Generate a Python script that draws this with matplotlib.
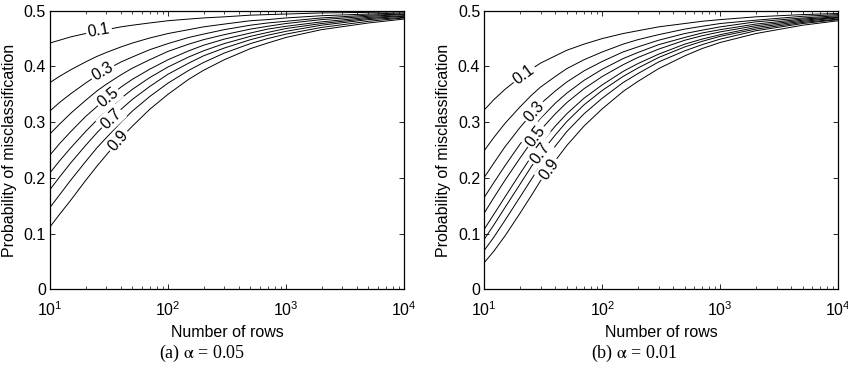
import numpy as np
import matplotlib
matplotlib.use('Agg')
import matplotlib.pyplot as plt

plt.rcParams['font.family'] = ['Liberation Sans', 'DejaVu Sans']
plt.rcParams['font.size'] = 11.5
plt.rcParams['mathtext.fontset'] = 'stix'

rows = [10, 12, 15, 20, 25, 30, 40, 50, 70, 100, 150, 200, 300, 500, 700,
        1000, 2000, 5000, 10000]
levels = [0.1, 0.2, 0.3, 0.4, 0.5, 0.6, 0.7, 0.8, 0.9]
shown = ['0.1', '0.3', '0.5', '0.7', '0.9']

# (a) alpha = 0.05, one list per level 0.1 .. 0.9
miss_a = [
    [.442, .447, .453, .459, .463, .466, .471, .474, .478, .482, .485, .487, .489, .492, .493, .494, .496, .497, .498],
    [.371, .382, .394, .408, .418, .425, .435, .442, .451, .459, .466, .471, .476, .482, .484, .487, .491, .494, .496],
    [.320, .335, .351, .370, .384, .394, .408, .417, .430, .441, .452, .458, .466, .474, .478, .481, .487, .492, .494],
    [.279, .296, .316, .339, .356, .368, .385, .397, .412, .427, .440, .448, .457, .467, .472, .477, .484, .490, .493],
    [.241, .261, .283, .310, .328, .342, .363, .377, .395, .412, .428, .438, .449, .460, .467, .472, .480, .488, .491],
    [.209, .230, .254, .283, .304, .320, .343, .359, .380, .399, .417, .428, .441, .454, .461, .468, .477, .486, .490],
    [.179, .201, .227, .258, .281, .298, .323, .341, .364, .386, .406, .419, .433, .448, .456, .463, .474, .484, .488],
    [.147, .169, .196, .229, .254, .272, .300, .320, .346, .370, .393, .407, .424, .441, .450, .458, .470, .481, .487],
    [.112, .134, .160, .195, .221, .241, .272, .293, .323, .350, .377, .393, .412, .432, .442, .452, .466, .478, .485],
]

# (b) alpha = 0.01
miss_b = [
    [.322, .340, .359, .380, .395, .406, .419, .429, .440, .450, .459, .464, .471, .477, .481, .484, .489, .493, .495],
    [.249, .272, .298, .327, .348, .363, .382, .396, .412, .426, .440, .448, .457, .467, .472, .477, .483, .490, .493],
    [.201, .226, .256, .290, .314, .333, .356, .372, .392, .409, .426, .435, .447, .459, .465, .471, .480, .487, .491],
    [.165, .191, .222, .260, .287, .307, .334, .352, .375, .395, .414, .425, .439, .452, .460, .466, .476, .485, .489],
    [.137, .164, .196, .235, .264, .286, .315, .335, .360, .382, .403, .416, .431, .447, .455, .462, .473, .483, .488],
    [.108, .134, .166, .207, .238, .261, .293, .315, .343, .367, .391, .405, .422, .440, .449, .457, .470, .481, .487],
    [.090, .115, .147, .188, .220, .244, .277, .301, .331, .357, .382, .397, .416, .435, .445, .454, .467, .479, .485],
    [.070, .093, .124, .165, .197, .223, .257, .283, .315, .343, .371, .387, .408, .428, .439, .449, .464, .477, .484],
    [.048, .068, .096, .136, .168, .195, .231, .258, .293, .324, .355, .373, .396, .419, .432, .443, .459, .474, .482],
]

# where the inline labels sit (in rows) for levels 0.1, 0.3, ..., 0.9
label_rows_a = [26, 28, 31, 33, 38]
label_rows_b = [21.7, 26.4, 27.2, 30, 35.3]


def put_label(ax, xs, ys, x0, text):
    lx = np.log10(xs)
    l0 = np.log10(x0)
    y0 = np.interp(l0, lx, ys)
    pa = ax.transData.transform((10 ** (l0 - 0.04), np.interp(l0 - 0.04, lx, ys)))
    pb = ax.transData.transform((10 ** (l0 + 0.04), np.interp(l0 + 0.04, lx, ys)))
    ang = np.degrees(np.arctan2(pb[1] - pa[1], pb[0] - pa[0]))
    ax.text(x0, y0, text, rotation=ang, rotation_mode='anchor',
            ha='center', va='center', zorder=3,
            bbox=dict(boxstyle='square,pad=0.12', fc='white', ec='none'))


def draw_panel(fig, rect, curves, label_rows, caption, cx):
    ax = fig.add_axes(rect)
    ax.set_xscale('log')
    ax.set_xlim(10, 1e4)
    ax.set_ylim(0, 0.5)
    ax.set_yticks([0, 0.1, 0.2, 0.3, 0.4, 0.5])
    ax.set_yticklabels(['0', '0.1', '0.2', '0.3', '0.4', '0.5'])
    ax.tick_params(which='both', direction='in', top=True, right=True)
    ax.tick_params(which='major', length=3.5, width=0.6)
    ax.tick_params(which='minor', length=2, width=0.5)
    ax.tick_params(axis='x', which='major', pad=8)
    ax.tick_params(axis='y', which='major', pad=3)
    for s in ax.spines.values():
        s.set_linewidth(0.9)

    for ys in curves:
        ax.plot(rows, ys, color='black', lw=0.7, zorder=2)

    for i, txt in enumerate(shown):
        put_label(ax, rows, curves[2 * i], label_rows[i], txt)

    ax.set_xlabel('Number of rows', labelpad=4)
    ax.set_ylabel('Probability of misclassification', labelpad=5)
    fig.text(cx, 1 - 353 / 374, caption, ha='center', va='center',
             family=['Liberation Serif', 'DejaVu Serif'], size=13)
    return ax


def main():
    fig = plt.figure(figsize=(8.48, 3.74), dpi=100)
    w = 354 / 848
    b = (374 - 289.3) / 374
    h = 278.6 / 374
    draw_panel(fig, [50 / 848, b, w, h], miss_a, label_rows_a,
               r'(a) $\mathrm{\alpha}$ = 0.05', 202 / 848)
    draw_panel(fig, [484.3 / 848, b, w, h], miss_b, label_rows_b,
               r'(b) $\mathrm{\alpha}$ = 0.01', 634 / 848)
    fig.savefig('out.png', dpi=100)


if __name__ == '__main__':
    main()
